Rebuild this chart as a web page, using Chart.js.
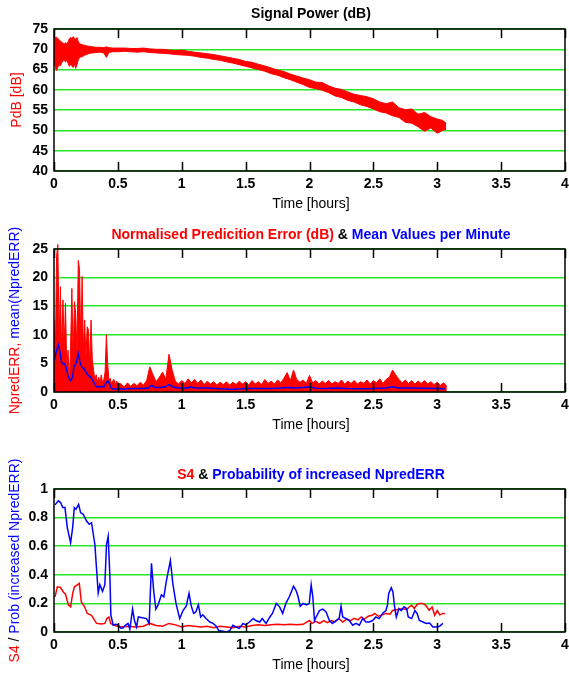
<!DOCTYPE html>
<html>
<head>
<meta charset="utf-8">
<script src="https://cdn.jsdelivr.net/npm/chart.js@4.4.1/dist/chart.umd.min.js"></script>
<style>
  body { margin: 0; background: #fff; }
  #wrap { position: relative; width: 569px; height: 675px; }
  canvas { position: absolute; left: 0; }
</style>
</head>
<body>
<div id="wrap">
  <canvas id="c1" width="569" height="215" style="top:0"></canvas>
  <canvas id="c2" width="569" height="225" style="top:215px"></canvas>
  <canvas id="c3" width="569" height="235" style="top:440px"></canvas>
</div>
<script>
// signal power, drawn as the band between upper and lower envelope
const pdbTime = [
  0, 0.01, 0.02, 0.03, 0.04, 0.05, 0.06, 0.07, 0.08, 0.09, 0.10, 0.11, 0.12, 0.13, 0.14, 0.15, 0.16, 0.17, 0.18, 0.19, 0.20,
  0.22, 0.24, 0.26, 0.28, 0.30, 0.33, 0.36, 0.39, 0.41, 0.43, 0.46,
  0.50, 0.55, 0.60, 0.65, 0.70, 0.75, 0.80, 0.85, 0.90, 0.95,
  1.00, 1.05, 1.10, 1.15, 1.20, 1.25, 1.30, 1.35, 1.40, 1.45,
  1.50, 1.55, 1.60, 1.65, 1.70, 1.75, 1.80, 1.85, 1.90, 1.95,
  2.00, 2.05, 2.10, 2.15, 2.20, 2.25, 2.30, 2.35, 2.40, 2.45,
  2.50, 2.55, 2.60, 2.65, 2.70, 2.75, 2.80, 2.85, 2.90, 2.95,
  3.00, 3.04, 3.07
];
const pdbHigh = [
  72.2, 72.9, 73.0, 72.6, 72.4, 72.0, 71.8, 71.5, 71.3, 71.6, 71.4, 71.8, 72.6, 72.9, 72.7, 73.1, 72.8, 72.3, 72.9, 71.9, 71.4,
  71.1, 71.0, 70.8, 70.7, 70.6, 70.5, 70.5, 70.4, 70.6, 70.4, 70.3,
  70.3, 70.3, 70.2, 70.2, 70.3, 70.1, 70.0, 70.0, 69.8, 69.7,
  69.8, 69.5, 69.3, 69.1, 68.9, 68.7, 68.4, 68.1, 67.8, 67.5,
  67.0, 66.8, 66.3, 65.9, 65.4, 64.9, 64.5, 63.9, 63.4, 62.9,
  62.5, 61.9, 61.8, 61.0, 60.4, 60.1, 59.5, 58.9, 58.6, 58.3,
  57.8, 57.0, 56.6, 57.0, 55.6, 55.1, 55.3, 54.0, 54.4, 53.4,
  52.8, 52.5, 51.8
];
const pdbLow = [
  66.8, 65.5, 64.8, 65.6, 66.2, 65.9, 66.7, 67.0, 67.4, 66.9, 67.2, 66.6, 65.8, 66.3, 65.9, 65.5, 66.4, 65.3, 66.2, 67.4, 68.0,
  68.2, 68.5, 68.8, 69.0, 69.1, 69.2, 69.3, 69.1, 68.0, 69.2, 69.4,
  69.4, 69.5, 69.4, 69.3, 69.4, 69.2, 69.1, 69.0, 68.9, 68.7,
  68.6, 68.5, 68.3, 68.0, 67.8, 67.5, 67.3, 66.9, 66.6, 66.2,
  65.8, 65.4, 65.0, 64.6, 64.0, 63.6, 63.0, 62.5, 61.9, 61.3,
  60.6, 60.3, 59.9, 59.3, 58.5, 58.1, 57.4, 57.0, 56.3, 55.9,
  55.3, 54.6, 54.3, 53.6, 53.2, 52.0, 51.8, 50.9, 49.8, 50.6,
  49.3, 50.0, 50.3
];

// normalised prediction error: every 0.01 h up to 0.5 h, then every 0.025 h
const errEarly = [
  12.6, 6.0, 23.7, 25.8, 9.0, 18.4, 7.0, 16.1, 8.0, 15.5,
  4.0, 7.3, 1.5, 8.0, 18.1, 6.0, 15.8, 13.7, 7.0, 23.0,
  21.4, 8.0, 20.2, 7.0, 12.6, 6.0, 11.4, 10.8, 4.5, 12.6,
  5.6, 3.8, 2.0, 3.0, 1.8, 2.6, 1.5, 3.0, 1.6, 2.2,
  3.5, 10.0, 5.0, 2.0, 2.4, 1.4, 2.0, 2.2, 1.3, 1.9,
  1.6
];
const errLate = [
  1.4, 0.9, 1.6, 1.0, 1.5, 1.1, 1.7, 1.2, 2.0, 4.4,
  3.0, 1.8, 2.6, 3.5, 2.2, 6.6, 3.8, 1.9, 1.4, 2.0,
  1.5, 2.3, 1.6, 2.2, 1.5, 2.1, 1.3, 1.9, 1.4, 1.8,
  1.2, 1.7, 1.3, 1.8, 1.2, 1.7, 1.3, 1.9, 1.4, 1.8,
  1.2, 2.0, 1.4, 1.8, 1.3, 2.2, 1.5, 1.9, 1.4, 2.1,
  1.6, 2.4, 3.4, 2.0, 3.85, 2.2, 1.7, 2.1, 1.5, 2.9,
  1.6, 2.0, 1.4, 1.9, 1.5, 2.0, 1.4, 1.8, 1.5, 2.1,
  1.4, 1.9, 1.5, 2.0, 1.4, 1.8, 1.5, 2.1, 1.4, 2.0,
  1.6, 2.3, 1.5, 2.2, 2.6, 3.85, 3.0, 2.2, 1.6, 2.1,
  1.5, 2.0, 1.4, 1.9, 1.5, 2.0, 1.4, 1.8, 1.3, 1.7,
  1.2, 1.6, 1.0
];

// mean values per minute
const meanTime = [
  0.003, 0.017, 0.034, 0.047, 0.06, 0.078, 0.094, 0.112, 0.13, 0.146,
  0.156, 0.172, 0.19, 0.203, 0.216, 0.234, 0.25, 0.268, 0.286, 0.307,
  0.333, 0.36, 0.39, 0.406, 0.424, 0.438, 0.45, 0.477, 0.5, 0.55,
  0.6, 0.65, 0.7, 0.74, 0.763, 0.79, 0.83, 0.87, 0.9, 0.93,
  0.97, 1.0, 1.05, 1.07, 1.1, 1.2, 1.3, 1.4, 1.47, 1.5,
  1.6, 1.7, 1.8, 1.85, 1.9, 2.0, 2.05, 2.15, 2.2, 2.3,
  2.4, 2.5, 2.6, 2.65, 2.7, 2.8, 2.9, 3.0, 3.06
];
const meanValue = [
  5.6, 7.0, 8.2, 7.0, 5.0, 5.0, 4.4, 2.6, 2.0, 2.6,
  4.4, 5.0, 6.7, 5.3, 4.4, 4.1, 3.5, 2.9, 2.6, 1.8,
  0.9, 0.9, 0.9, 1.6, 1.9, 1.2, 0.6, 0.5, 0.6, 0.5,
  0.6, 0.6, 0.6, 0.7, 1.2, 0.8, 0.8, 0.9, 1.3, 0.9,
  0.7, 0.7, 0.7, 0.9, 0.7, 0.7, 0.55, 0.5, 0.55, 0.6,
  0.6, 0.6, 0.75, 0.8, 0.7, 0.9, 0.65, 0.6, 0.7, 0.6,
  0.55, 0.6, 0.7, 0.9, 0.7, 0.7, 0.65, 0.6, 0.55
];

// probability of increased NpredERR
const probTime = [
  0.008, 0.034, 0.052, 0.068, 0.086, 0.104, 0.13, 0.146, 0.159, 0.172,
  0.193, 0.208, 0.229, 0.255, 0.276, 0.294, 0.32, 0.346, 0.359, 0.38,
  0.398, 0.411, 0.424, 0.438, 0.445, 0.463, 0.484, 0.502, 0.523, 0.542,
  0.56, 0.58, 0.594, 0.615, 0.63, 0.646, 0.66, 0.69, 0.724, 0.745,
  0.763, 0.78, 0.797, 0.815, 0.841, 0.86, 0.88, 0.911, 0.93, 0.955,
  0.984, 1.01, 1.035, 1.057, 1.075, 1.093, 1.11, 1.13, 1.148, 1.165,
  1.19, 1.22, 1.245, 1.27, 1.29, 1.32, 1.35, 1.375, 1.4, 1.425,
  1.45, 1.48, 1.5, 1.53, 1.56, 1.58, 1.61, 1.63, 1.66, 1.69,
  1.71, 1.74, 1.766, 1.79, 1.815, 1.844, 1.875, 1.895, 1.91, 1.927,
  1.95, 1.975, 1.998, 2.013, 2.026, 2.039, 2.052, 2.078, 2.104, 2.13,
  2.156, 2.18, 2.207, 2.232, 2.247, 2.26, 2.286, 2.312, 2.338, 2.364,
  2.39, 2.416, 2.442, 2.468, 2.494, 2.52, 2.546, 2.572, 2.598, 2.61,
  2.62, 2.64, 2.653, 2.666, 2.68, 2.7, 2.718, 2.74, 2.76, 2.773,
  2.8, 2.825, 2.843, 2.86, 2.888, 2.914, 2.94, 2.966, 2.992, 3.018,
  3.044
];
const probValue = [
  0.889, 0.917, 0.905, 0.87, 0.87, 0.73, 0.624, 0.73, 0.87, 0.858,
  0.893, 0.835, 0.823, 0.776, 0.753, 0.764, 0.612, 0.272, 0.331, 0.284,
  0.331, 0.612, 0.67, 0.377, 0.12, 0.049, 0.054, 0.049, 0.026, 0.03,
  0.049, 0.06, 0.02, 0.16, 0.08, 0.035, 0.105, 0.1, 0.094, 0.06,
  0.48, 0.29, 0.16, 0.19, 0.26, 0.246, 0.36, 0.5, 0.34, 0.2,
  0.094, 0.15, 0.18, 0.27, 0.18, 0.13, 0.14, 0.19, 0.105, 0.12,
  0.094, 0.07, 0.06, 0.04, 0.01, 0.005, 0.0, 0.01, 0.047, 0.035,
  0.025, 0.06, 0.05, 0.07, 0.094, 0.08, 0.07, 0.094, 0.06, 0.105,
  0.13, 0.2, 0.176, 0.13, 0.2, 0.25, 0.32, 0.29, 0.25, 0.18,
  0.2, 0.19, 0.2, 0.33, 0.246, 0.08, 0.105, 0.15, 0.16, 0.14,
  0.08, 0.06, 0.08, 0.094, 0.18, 0.105, 0.094, 0.08, 0.047, 0.06,
  0.047, 0.094, 0.07, 0.07, 0.08, 0.105, 0.094, 0.13, 0.15, 0.187,
  0.27, 0.31, 0.28, 0.176, 0.105, 0.164, 0.15, 0.176, 0.164, 0.105,
  0.094, 0.15, 0.128, 0.08, 0.07, 0.06, 0.063, 0.035, 0.035, 0.04,
  0.06
];

// S4
const s4Time = [
  0.008, 0.026, 0.05, 0.073, 0.09, 0.112, 0.13, 0.146, 0.16, 0.18,
  0.198, 0.214, 0.24, 0.26, 0.294, 0.31, 0.333, 0.37, 0.398, 0.414,
  0.43, 0.444, 0.47, 0.52, 0.58, 0.64, 0.7, 0.75, 0.8, 0.85,
  0.9, 0.95, 1.0, 1.05, 1.1, 1.15, 1.2, 1.25, 1.3, 1.35,
  1.4, 1.45, 1.5, 1.55, 1.6, 1.65, 1.7, 1.75, 1.8, 1.85,
  1.9, 1.95, 2.0, 2.02, 2.05, 2.08, 2.11, 2.14, 2.17, 2.2,
  2.23, 2.26, 2.29, 2.32, 2.35, 2.38, 2.405, 2.43, 2.46, 2.49,
  2.51, 2.54, 2.57, 2.6, 2.63, 2.65, 2.68, 2.71, 2.74, 2.76,
  2.78, 2.8, 2.82, 2.84, 2.86, 2.885, 2.91, 2.937, 2.96, 2.98,
  3.0, 3.02, 3.044, 3.06
];
const s4Value = [
  0.246, 0.316, 0.311, 0.28, 0.265, 0.19, 0.176, 0.269, 0.316, 0.328,
  0.34, 0.21, 0.176, 0.13, 0.117, 0.094, 0.06, 0.056, 0.06, 0.094,
  0.105, 0.06, 0.047, 0.035, 0.04, 0.035, 0.04, 0.06, 0.045, 0.04,
  0.06, 0.05, 0.035, 0.045, 0.04, 0.035, 0.04, 0.03, 0.04, 0.035,
  0.03, 0.04, 0.035, 0.045, 0.05, 0.045, 0.05, 0.055, 0.05, 0.055,
  0.05, 0.054, 0.08, 0.06, 0.075, 0.06, 0.08, 0.065, 0.08, 0.07,
  0.094, 0.07, 0.09, 0.08, 0.095, 0.085, 0.105, 0.09, 0.11, 0.117,
  0.13, 0.11, 0.12, 0.13, 0.125, 0.15, 0.155, 0.16, 0.16, 0.156,
  0.175, 0.187, 0.164, 0.19, 0.2, 0.2, 0.187, 0.152, 0.175, 0.117,
  0.15, 0.12, 0.13, 0.128
];

const xTicks = [0, 0.5, 1, 1.5, 2, 2.5, 3, 3.5, 4];

const RED = "#ff0000";
const BLUE = "#0000ff";
const GRID = "#26e626";
const FONT = '"Liberation Sans", Arial, sans-serif';
const tickFont = { family: FONT, size: 14, weight: "bold" };

function pts(xs, ys) {
  return ys.map((y, i) => ({ x: xs[i], y: y }));
}

// x of evenly sampled values
function sampled(start, step, ys) {
  return ys.map((y, i) => ({ x: +(start + i * step).toFixed(4), y: y }));
}

// 1 not 1.0, 0.2 not 0.2000001
const fmt = (v) => String(+Number(v).toFixed(2));

function drawText(ctx, parts, x, y, font, rotate) {
  ctx.save();
  ctx.font = font;
  ctx.textBaseline = "middle";
  ctx.textAlign = "left";
  ctx.translate(x, y);
  if (rotate) ctx.rotate(-Math.PI / 2);
  let total = 0;
  parts.forEach((p) => (total += ctx.measureText(p[0]).width));
  let cx = -total / 2;
  parts.forEach((p) => {
    ctx.fillStyle = p[1];
    ctx.fillText(p[0], cx, 0);
    cx += ctx.measureText(p[0]).width;
  });
  ctx.restore();
}

const decor = {
  id: "decor",
  afterDraw(chart, args, o) {
    const ctx = chart.ctx;
    const a = chart.chartArea;
    const xs = chart.scales.x;
    ctx.save();
    ctx.strokeStyle = "#000";
    ctx.lineWidth = 1.5;
    ctx.strokeRect(a.left, a.top, a.right - a.left, a.bottom - a.top);
    ctx.beginPath();
    xTicks.forEach((v) => {
      const px = Math.round(xs.getPixelForValue(v)) + 0.5;
      ctx.moveTo(px, a.top);
      ctx.lineTo(px, a.top + 9);
      ctx.moveTo(px, a.bottom);
      ctx.lineTo(px, a.bottom - 9);
    });
    ctx.stroke();
    ctx.restore();
    drawText(ctx, o.title, 311, o.titleY, "bold 14px " + FONT);
    drawText(ctx, [["Time [hours]", "#000"]], 311, o.xlabelY, "14px " + FONT);
    drawText(ctx, o.ylabel, o.ylabelX, (a.top + a.bottom) / 2, "14px " + FONT, true);
  },
};

function makeChart(id, datasets, yMin, yMax, yStep, plotTop, plotBottom, decorOpts) {
  const canvas = document.getElementById(id);
  const h = canvas.height;
  return new Chart(canvas, {
    type: "line",
    data: { datasets: datasets },
    plugins: [decor],
    options: {
      responsive: false,
      animation: false,
      devicePixelRatio: 1,
      layout: { padding: { top: plotTop, right: 4, left: 0, bottom: 0 } },
      plugins: {
        legend: { display: false },
        tooltip: { enabled: false },
        decor: decorOpts,
      },
      elements: { point: { radius: 0 }, line: { tension: 0 } },
      scales: {
        x: {
          type: "linear",
          min: 0,
          max: 4,
          grid: { display: false, drawTicks: false },
          border: { display: false },
          ticks: {
            stepSize: 0.5,
            autoSkip: false,
            maxRotation: 0,
            padding: 5,
            color: "#000",
            font: tickFont,
            callback: fmt,
          },
          afterFit: (s) => {
            s.height = h - plotBottom;
            s.paddingRight = 0;
          },
        },
        y: {
          min: yMin,
          max: yMax,
          grid: { color: GRID, lineWidth: 1.5, drawTicks: false },
          border: { display: false },
          ticks: { stepSize: yStep, padding: 6, color: "#000", font: tickFont, callback: fmt },
          afterFit: (s) => { s.width = 54; },
        },
      },
    },
  });
}

makeChart(
  "c1",
  [
    { data: pts(pdbTime, pdbHigh), borderColor: RED, borderWidth: 1, backgroundColor: RED, fill: "+1" },
    { data: pts(pdbTime, pdbLow), borderColor: RED, borderWidth: 1, fill: false },
  ],
  40, 75, 5, 29, 171,
  {
    title: [["Signal Power (dB)", "#000"]],
    titleY: 14,
    xlabelY: 204,
    ylabel: [["PdB [dB]", RED]],
    ylabelX: 17,
  }
);

makeChart(
  "c2",
  [
    { data: pts(meanTime, meanValue), borderColor: BLUE, borderWidth: 1.5, fill: false },
    {
      data: sampled(0, 0.01, errEarly).concat(sampled(0.525, 0.025, errLate)),
      borderColor: RED,
      borderWidth: 1,
      backgroundColor: RED,
      fill: "origin",
      clip: { left: 0, top: 5, right: 0, bottom: 0 },
    },
  ],
  0, 25, 5, 34, 177,
  {
    title: [
      ["Normalised Predicition Error (dB)", RED],
      [" & ", "#000"],
      ["Mean Values per Minute", BLUE],
    ],
    titleY: 20,
    xlabelY: 210,
    ylabel: [["NpredERR,", RED], [" mean(NpredERR)", BLUE]],
    ylabelX: 15,
  }
);

makeChart(
  "c3",
  [
    { data: pts(probTime, probValue), borderColor: BLUE, borderWidth: 1.5, fill: false },
    { data: pts(s4Time, s4Value), borderColor: RED, borderWidth: 1.5, fill: false },
  ],
  0, 1, 0.2, 49, 192,
  {
    title: [
      ["S4", RED],
      [" & ", "#000"],
      ["Probability of increased NpredERR", BLUE],
    ],
    titleY: 35,
    xlabelY: 225,
    ylabel: [["S4", RED], [" / ", "#000"], ["Prob (increased NpredERR)", BLUE]],
    ylabelX: 15,
  }
);
</script>
</body>
</html>
